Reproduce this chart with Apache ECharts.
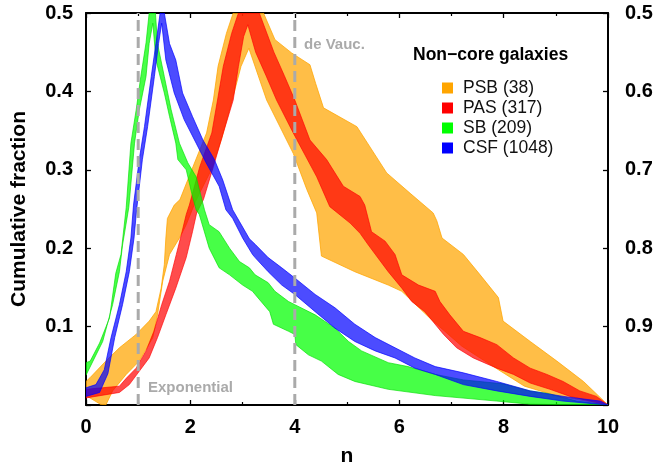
<!DOCTYPE html>
<html><head><meta charset="utf-8">
<script src="https://cdn.jsdelivr.net/npm/echarts@6/dist/echarts.min.js"></script>
<style>html,body{margin:0;padding:0;background:#fff}#c{width:657px;height:465px}</style>
</head><body><div id="c"></div>
<script>
// ---- data (n, cumulative fraction) ----
const categories = ['PSB (38)', 'PAS (317)', 'SB (209)', 'CSF (1048)'];
const guideN = [1, 4];
const guideLabels = ['Exponential', 'de Vauc.'];
const xTickStep = 2;
const yTickStep = 0.1;

const psbUpper = [[0,0.030],[0.08,0.035],[0.38,0.056],[0.64,0.073],[0.96,0.090],[1.21,0.107],[1.34,0.119],[1.44,0.149],[1.50,0.179],[1.53,0.213],[1.56,0.238],[1.69,0.255],[1.80,0.262],[2.05,0.304],[2.31,0.347],[2.44,0.389],[2.53,0.432],[2.69,0.474],[2.82,0.5],[3.40,0.5],[3.62,0.466],[3.94,0.449],[4.29,0.434],[4.40,0.41],[4.55,0.379],[5.19,0.355],[5.76,0.296],[6.21,0.270],[6.65,0.245],[6.72,0.235],[6.82,0.213],[7.23,0.192],[7.55,0.166],[7.90,0.137],[7.99,0.107],[8.51,0.081],[9.02,0.056],[9.53,0.030],[10,0]];
const psbLower = [[0,0.012],[0.3,0.0],[0.38,0.0],[0.51,0.018],[0.77,0.039],[1.02,0.056],[1.28,0.086],[1.37,0.115],[1.47,0.158],[1.60,0.192],[1.79,0.213],[1.92,0.230],[2.1,0.26],[2.4,0.30],[2.6,0.34],[2.8,0.389],[2.97,0.432],[3.12,0.455],[3.3,0.42],[3.46,0.389],[3.97,0.321],[4.23,0.275],[4.42,0.245],[4.51,0.190],[5.15,0.170],[5.79,0.153],[6.05,0.145],[6.6,0.11],[7.2,0.075],[7.9,0.045],[8.4,0.024],[9.0,0.012],[10,0]];

const pasUpper = [[0,0.020],[0.64,0.024],[0.77,0.034],[0.96,0.047],[1.15,0.069],[1.30,0.094],[1.45,0.128],[1.60,0.158],[1.73,0.192],[1.84,0.221],[1.92,0.243],[1.98,0.255],[2.18,0.304],[2.41,0.347],[2.52,0.389],[2.63,0.432],[2.79,0.474],[2.92,0.5],[3.32,0.5],[3.6,0.45],[3.8,0.42],[4.0,0.389],[4.29,0.338],[4.61,0.313],[4.93,0.279],[5.25,0.266],[5.34,0.255],[5.47,0.221],[5.73,0.209],[5.92,0.192],[6.05,0.166],[6.37,0.153],[6.69,0.145],[6.78,0.132],[6.97,0.115],[7.23,0.094],[7.55,0.086],[7.87,0.077],[8.19,0.060],[8.51,0.047],[8.83,0.039],[9.14,0.030],[9.46,0.018],[9.78,0.011],[10,0]];
const pasLower = [[0,0.009],[0.64,0.016],[0.83,0.026],[1.02,0.043],[1.21,0.060],[1.37,0.086],[1.53,0.115],[1.72,0.149],[1.92,0.188],[2.04,0.221],[2.12,0.245],[2.25,0.262],[2.44,0.304],[2.63,0.347],[2.82,0.389],[2.92,0.432],[3.02,0.47],[3.1,0.485],[3.25,0.45],[3.45,0.42],[3.65,0.389],[3.97,0.347],[4.42,0.291],[4.67,0.253],[5.06,0.232],[5.25,0.219],[5.41,0.204],[5.79,0.170],[6.05,0.149],[6.24,0.132],[6.49,0.119],[6.59,0.111],[6.85,0.090],[7.10,0.073],[7.42,0.060],[7.87,0.047],[8.19,0.039],[8.51,0.028],[8.89,0.020],[9.27,0.011],[9.66,0.005],[10,0]];

const sbUpper = [[0,0.054],[0.08,0.056],[0.26,0.079],[0.45,0.111],[0.57,0.168],[0.67,0.192],[0.77,0.252],[0.86,0.334],[0.96,0.376],[1.05,0.419],[1.15,0.462],[1.21,0.5],[1.33,0.5],[1.37,0.461],[1.50,0.419],[1.63,0.377],[1.79,0.334],[1.95,0.309],[2.11,0.291],[2.27,0.249],[2.36,0.230],[2.55,0.221],[2.75,0.200],[2.94,0.183],[3.13,0.175],[3.24,0.166],[3.49,0.156],[3.62,0.145],[3.88,0.132],[4.0,0.128],[4.39,0.115],[4.77,0.098],[5.03,0.081],[5.28,0.069],[5.79,0.054],[6.17,0.049],[6.69,0.039],[7.23,0.032],[7.99,0.027],[8.5,0.018],[8.83,0.015],[9.40,0.005],[10,0]];
const sbLower = [[0,0.038],[0.32,0.081],[0.51,0.128],[0.64,0.170],[0.70,0.204],[0.82,0.252],[0.93,0.334],[1.02,0.376],[1.15,0.419],[1.21,0.461],[1.28,0.487],[1.34,0.44],[1.50,0.398],[1.60,0.368],[1.72,0.334],[1.76,0.313],[1.92,0.300],[2.04,0.266],[2.11,0.249],[2.17,0.243],[2.36,0.200],[2.55,0.175],[2.75,0.166],[3.0,0.153],[3.19,0.145],[3.24,0.141],[3.52,0.119],[3.59,0.103],[3.88,0.094],[4.0,0.090],[4.02,0.077],[4.26,0.064],[4.51,0.056],[4.83,0.039],[5.15,0.030],[5.79,0.020],[6.69,0.012],[7.87,0.005],[8.5,0.001],[10,0]];

const csfUpper = [[0,0.022],[0.19,0.026],[0.35,0.045],[0.48,0.086],[0.64,0.128],[0.77,0.170],[0.86,0.213],[0.91,0.255],[1.02,0.313],[1.12,0.355],[1.25,0.419],[1.34,0.461],[1.42,0.5],[1.50,0.5],[1.60,0.461],[1.72,0.44],[1.85,0.398],[2.04,0.368],[2.24,0.338],[2.46,0.313],[2.62,0.287],[2.81,0.249],[2.94,0.234],[3.13,0.212],[3.24,0.205],[3.49,0.188],[3.75,0.175],[4.0,0.162],[4.39,0.141],[4.77,0.124],[5.15,0.103],[5.54,0.086],[5.92,0.073],[6.30,0.060],[6.69,0.049],[7.23,0.041],[7.87,0.030],[8.51,0.018],[9.14,0.011],[9.85,0.005],[10,0]];
const csfLower = [[0,0.011],[0.26,0.016],[0.42,0.040],[0.55,0.086],[0.70,0.128],[0.83,0.170],[0.92,0.213],[0.97,0.249],[1.08,0.313],[1.18,0.355],[1.31,0.419],[1.39,0.461],[1.45,0.487],[1.53,0.44],[1.69,0.398],[1.88,0.364],[2.11,0.334],[2.30,0.309],[2.55,0.279],[2.68,0.249],[2.81,0.238],[3.0,0.213],[3.19,0.192],[3.24,0.188],[3.49,0.170],[3.75,0.153],[4.0,0.141],[4.39,0.119],[4.77,0.098],[5.15,0.081],[5.54,0.069],[5.92,0.060],[6.30,0.047],[6.69,0.039],[7.23,0.026],[7.87,0.018],[8.51,0.011],[9.14,0.005],[10,0]];

// ---- styling ----
const FONT = 'Liberation Sans, Arial, Helvetica, sans-serif';
const solid = ['#FFA500', '#FF0000', '#00FF00', '#0000FF'];
const fills = ['rgba(255,165,0,0.72)', 'rgba(255,0,0,0.70)', 'rgba(0,255,0,0.72)', 'rgba(0,0,255,0.70)'];
const strokes = ['rgba(255,165,0,0.95)', 'rgba(255,0,0,0.8)', 'rgba(0,220,0,0.8)', 'rgba(0,0,255,0.85)'];
const bands = [[psbUpper, psbLower], [pasUpper, pasLower], [sbUpper, sbLower], [csfUpper, csfLower]];

function bandSeries(i) {
  const poly = bands[i][0].concat(bands[i][1].slice().reverse());
  return {
    type: 'custom', name: categories[i], coordinateSystem: 'cartesian2d',
    xAxisIndex: 0, yAxisIndex: 0,
    data: poly, encode: { x: 0, y: 1 },
    itemStyle: { color: solid[i] },
    clip: true, z: 2 + i, silent: true,
    renderItem: function (params, api) {
      if (params.dataIndex !== 0) return null;
      const pts = poly.map(p => api.coord(p));
      return { type: 'polygon', shape: { points: pts },
        style: { fill: fills[i], stroke: strokes[i], lineWidth: 0.8 } };
    }
  };
}

const axisCommon = {
  type: 'value',
  axisLine: { show: true, onZero: false, lineStyle: { color: '#000', width: 2 } },
  axisTick: { show: true, inside: true, length: 5, lineStyle: { color: '#000', width: 1.3 } },
  splitLine: { show: false },
};
const labelStyle = { color: '#000', fontSize: 20, fontWeight: 'bold', fontFamily: FONT };

const series = [0, 1, 2, 3].map(bandSeries);
guideN.forEach(function (n) {
  series.push({
    type: 'line', data: [[n, 0], [n, 0.5]], symbol: 'none', silent: true, z: 10,
    lineStyle: { color: '#aaaaaa', width: 3, type: [11, 6] }, xAxisIndex: 0, yAxisIndex: 0
  });
});

const chart = echarts.init(document.getElementById('c'), null, { renderer: 'canvas' });
chart.setOption({
  animation: false,
  backgroundColor: '#fff',
  grid: { left: 86, right: 49, top: 13, bottom: 60, containLabel: false, outerBoundsMode: 'none' },
  title: {
    text: 'Non\u2212core galaxies', left: 408, top: 41,
    textStyle: { color: '#000', fontSize: 17.5, fontWeight: 'bold', fontFamily: FONT }
  },
  legend: {
    data: categories.map((c, i) => ({ name: c, itemStyle: { color: solid[i] } })),
    orient: 'vertical', left: 437, top: 74,
    icon: 'rect', itemWidth: 11, itemHeight: 11, itemGap: 2,
    selectedMode: false,
    textStyle: { color: '#111', fontSize: 17.5, fontFamily: FONT, lineHeight: 18, padding: [0, 0, 0, 5] }
  },
  xAxis: [
    Object.assign({}, axisCommon, {
      position: 'bottom', min: 0, max: 10, interval: xTickStep,
      name: 'n', nameLocation: 'middle', nameGap: 41,
      nameTextStyle: { color: '#000', fontSize: 21, fontWeight: 'bold', fontFamily: FONT },
      minorTick: { show: true, splitNumber: 2, length: 3, lineStyle: { color: '#000', width: 1.2 } },
      axisLabel: Object.assign({ margin: 12 }, labelStyle)
    }),
    Object.assign({}, axisCommon, {
      position: 'top', min: 0, max: 10, interval: xTickStep,
      minorTick: { show: true, splitNumber: 2, length: 3, lineStyle: { color: '#000', width: 1.2 } },
      axisLabel: { show: false }
    })
  ],
  yAxis: [
    Object.assign({}, axisCommon, {
      position: 'left', min: 0, max: 0.5, interval: yTickStep,
      name: 'Cumulative fraction', nameLocation: 'middle', nameGap: 56,
      nameTextStyle: { color: '#000', fontSize: 21, fontWeight: 'bold', fontFamily: FONT },
      axisLabel: Object.assign({ margin: 13, formatter: v => (v < 1e-6 ? '' : v.toFixed(1)) }, labelStyle)
    }),
    Object.assign({}, axisCommon, {
      position: 'right', min: 0.5, max: 1.0, interval: yTickStep, inverse: true,
      axisLabel: Object.assign({ margin: 17, formatter: v => (v > 0.999 ? '' : v.toFixed(1)) }, labelStyle)
    })
  ],
  graphic: [
    { type: 'text', left: 148, top: 380, silent: true, z: 20,
      style: { text: guideLabels[0], fill: '#aaaaaa', font: 'bold 15px ' + FONT } },
    { type: 'text', left: 304, top: 37, silent: true, z: 20,
      style: { text: guideLabels[1], fill: '#aaaaaa', font: 'bold 15px ' + FONT } }
  ],
  series: series
});
</script>
</body></html>
